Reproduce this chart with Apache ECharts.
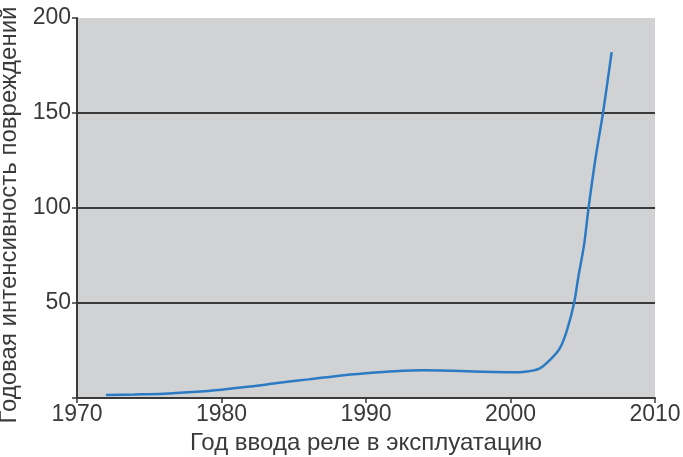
<!DOCTYPE html>
<html>
<head>
<meta charset="utf-8">
<script src="https://cdn.jsdelivr.net/npm/echarts@6/dist/echarts.min.js"></script>
<style>
  html, body { margin: 0; padding: 0; background: #fff; }
  #chart { width: 683px; height: 457px; }
</style>
</head>
<body>
<div id="chart"></div>
<script>
// год ввода реле и годовая интенсивность повреждений
const years = [1972, 1974, 1976, 1978, 1980, 1982, 1984, 1986, 1988, 1990, 1992, 1994, 1996, 1998, 2000, 2001, 2002, 2002.7, 2003.4, 2003.9, 2004.4, 2004.7, 2005.1, 2005.4, 2005.9, 2006.4, 2007]
const rates = [1.6, 1.9, 2.3, 3.2, 4.4, 6, 8, 9.8, 11.6, 13, 14.1, 14.6, 14.3, 13.8, 13.5, 13.8, 15.5, 19.8, 26, 35.5, 50, 64, 81, 100, 127, 150, 182]
const yTicks = [0, 50, 100, 150, 200]

const textColor = '#3a3a3a'
const font = 'Liberation Sans, Arial, sans-serif'

const chart = echarts.init(document.getElementById('chart'))
chart.setOption({
  animation: false,
  grid: {
    left: 77,
    right: 28,
    top: 18,
    bottom: 59,
    outerBoundsMode: 'none',
    containLabel: false,
    show: true,
    backgroundColor: '#d1d2d4',
    borderWidth: 0
  },
  xAxis: {
    type: 'value',
    min: 1970,
    max: 2010,
    interval: 10,
    name: 'Год ввода реле в эксплуатацию',
    nameLocation: 'middle',
    nameGap: 30,
    nameTextStyle: { color: textColor, fontSize: 24, fontFamily: font },
    axisLine: { lineStyle: { color: '#3a3a3a', width: 2 } },
    axisTick: { length: 5, lineStyle: { color: '#3a3a3a', width: 1.5 } },
    axisLabel: {
      color: textColor, fontSize: 23, fontFamily: font, margin: 5,
      formatter: v => String(v)
    },
    splitLine: { show: false }
  },
  yAxis: {
    type: 'value',
    min: yTicks[0],
    max: yTicks[yTicks.length - 1],
    interval: 50,
    name: 'Годовая интенсивность повреждений',
    nameLocation: 'middle',
    nameGap: 46,
    nameTextStyle: { color: textColor, fontSize: 24, fontFamily: font, padding: [0, 14, 0, 0] },
    axisLine: { show: true, lineStyle: { color: '#3a3a3a', width: 2 } },
    axisTick: { show: true, length: 5, lineStyle: { color: '#3a3a3a', width: 1.5 } },
    axisLabel: {
      color: textColor, fontSize: 23, fontFamily: font, margin: 6,
      formatter: v => (v === 0 ? '' : String(v))
    },
    splitLine: {
      show: true,
      lineStyle: { color: ['#3a3a3a', '#3a3a3a', '#3a3a3a', '#3a3a3a', 'rgba(0,0,0,0)'], width: 2 }
    }
  },
  series: [{
    type: 'line',
    data: years.map((y, i) => [y, rates[i]]),
    smooth: 0.3,
    showSymbol: false,
    lineStyle: { color: '#2a7bc4', width: 2.5 }
  }]
})
</script>
</body>
</html>
